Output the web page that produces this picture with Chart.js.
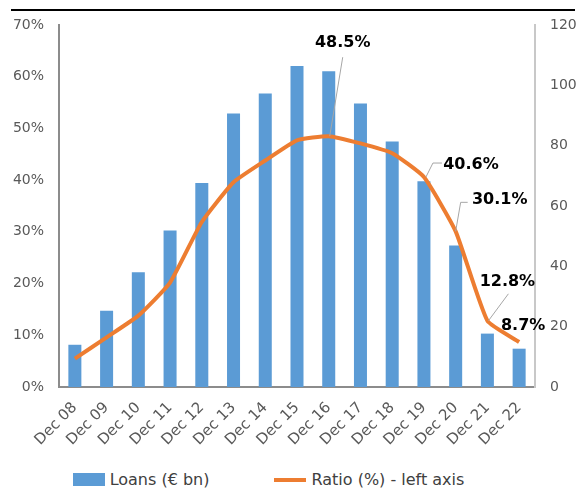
<!DOCTYPE html>
<html>
<head>
<meta charset="utf-8">
<script src="https://cdn.jsdelivr.net/npm/chart.js@4"></script>
<style>
  body { margin: 0; background: #fff; overflow: hidden; }
  .wrap { position: relative; width: 577px; height: 490px; }
  .topline { position: absolute; left: 11px; top: 9px; width: 564px; height: 2px; background: #000; }
  .chart-box { position: absolute; left: 0; top: 0; width: 577px; height: 465px; }
  #legend { position: absolute; left: 0; top: 470px; width: 537px; display: flex; justify-content: center; gap: 65px;
    font-family: "DejaVu Sans", sans-serif; font-size: 16px; color: #404040; }
  #legend .item { display: flex; align-items: center; }
  #legend .swatch { width: 32px; margin-right: 5px; }
</style>
</head>
<body>
<div class="wrap">
  <div class="topline"></div>
  <div class="chart-box"><canvas id="chart"></canvas></div>
  <div id="legend"></div>
</div>
<script>
// Categorie (anni)
const categories = ['Dec 08', 'Dec 09', 'Dec 10', 'Dec 11', 'Dec 12', 'Dec 13', 'Dec 14', 'Dec 15',
  'Dec 16', 'Dec 17', 'Dec 18', 'Dec 19', 'Dec 20', 'Dec 21', 'Dec 22'];

// Prestiti in € bn (asse destro)
const loans = [14.0, 25.3, 38.0, 51.9, 67.6, 90.7, 97.3, 106.4, 104.7, 94.0, 81.4, 68.2, 46.9, 17.7, 12.7];

// Ratio in % (asse sinistro)
const ratio = [5.5, 9.6, 13.8, 20.2, 31.9, 39.6, 43.8, 47.7, 48.5, 47.1, 45.2, 40.6, 30.1, 12.8, 8.7];

// Punti con etichetta
const labelled = [8, 11, 12, 13, 14];

const blue = '#5B9BD5';
const orange = '#ED7D31';
const tickColor = '#595959';
const fontFamily = '"DejaVu Sans", sans-serif';

// Posizione delle etichette rispetto al punto (px) + linee guida
const labelLayout = {
  8: { dx: 14, dy: -93, leader: [[1, 0], [14, -79]] },
  11: { dx: 47, dy: -12, leader: [[2, 0], [9, -14], [18, -14]] },
  12: { dx: 44, dy: -31, leader: [[0, 0], [5, -29], [12, -29]] },
  13: { dx: 20, dy: -39, leader: [[1, 0], [21, -27]] },
  14: { dx: 4, dy: -16, leader: null },
};

const dataLabels = {
  id: 'dataLabels',
  afterDatasetsDraw(chart) {
    const { ctx, scales } = chart;
    ctx.save();
    labelled.forEach((i) => {
      const x = scales.x.getPixelForValue(i);
      const y = scales.y.getPixelForValue(ratio[i]);
      const cfg = labelLayout[i];
      if (cfg.leader) {
        ctx.strokeStyle = '#a6a6a6';
        ctx.lineWidth = 1;
        ctx.beginPath();
        cfg.leader.forEach(([ox, oy], k) => {
          if (k === 0) ctx.moveTo(x + ox, y + oy);
          else ctx.lineTo(x + ox, y + oy);
        });
        ctx.stroke();
      }
      ctx.fillStyle = '#000';
      ctx.font = 'bold 16px ' + fontFamily;
      ctx.textAlign = 'center';
      ctx.textBaseline = 'middle';
      ctx.fillText(ratio[i].toFixed(1) + '%', x + cfg.dx, y + cfg.dy);
    });
    ctx.restore();
  },
};

const chart = new Chart(document.getElementById('chart'), {
  type: 'bar',
  data: {
    labels: categories,
    datasets: [
      {
        type: 'line',
        label: 'Ratio (%) - left axis',
        data: ratio,
        yAxisID: 'y',
        borderColor: orange,
        backgroundColor: orange,
        borderWidth: 4,
        pointRadius: 0,
        tension: 0.15,
        order: 0,
      },
      {
        type: 'bar',
        label: 'Loans (€ bn)',
        data: loans,
        yAxisID: 'y1',
        backgroundColor: blue,
        borderWidth: 0,
        categoryPercentage: 1,
        barPercentage: 0.41,
        order: 1,
      },
    ],
  },
  options: {
    responsive: true,
    maintainAspectRatio: false,
    animation: false,
    layout: { padding: { top: 25, right: 0, left: 0, bottom: 0 } },
    plugins: {
      legend: { display: false },
      tooltip: { enabled: false },
    },
    scales: {
      x: {
        grid: { display: false },
        border: { display: true, color: '#8c8c8c', width: 2 },
        ticks: {
          color: tickColor,
          font: { family: fontFamily, size: 15 },
          minRotation: 45,
          maxRotation: 45,
          autoSkip: false,
          padding: 4,
        },
        afterFit: (scale) => { scale.height = 78; },
      },
      y: {
        position: 'left',
        min: 0,
        max: 70,
        grid: { display: false, drawTicks: false },
        border: { display: true, color: '#8c8c8c', width: 2 },
        ticks: {
          stepSize: 10,
          padding: 15,
          color: tickColor,
          font: { family: fontFamily, size: 14 },
          callback: (v) => v + '%',
        },
        afterFit: (scale) => { scale.width = 59; },
      },
      y1: {
        position: 'right',
        min: 0,
        max: 120,
        grid: { display: false, drawTicks: false },
        border: { display: true, color: '#c8c8c8', width: 2 },
        ticks: {
          stepSize: 20,
          padding: 15,
          color: tickColor,
          font: { family: fontFamily, size: 14 },
        },
        afterFit: (scale) => { scale.width = 42; },
      },
    },
  },
  plugins: [dataLabels],
});

// Legenda HTML (ordine: barre, poi linea)
const legendEl = document.getElementById('legend');
[1, 0].forEach((idx) => {
  const ds = chart.data.datasets[idx];
  const item = document.createElement('div');
  item.className = 'item';
  const sw = document.createElement('span');
  sw.className = 'swatch';
  sw.style.height = ds.type === 'line' ? '4px' : '13px';
  sw.style.background = ds.type === 'line' ? ds.borderColor : ds.backgroundColor;
  const txt = document.createElement('span');
  txt.textContent = ds.label;
  item.appendChild(sw);
  item.appendChild(txt);
  legendEl.appendChild(item);
});
</script>
</body>
</html>
